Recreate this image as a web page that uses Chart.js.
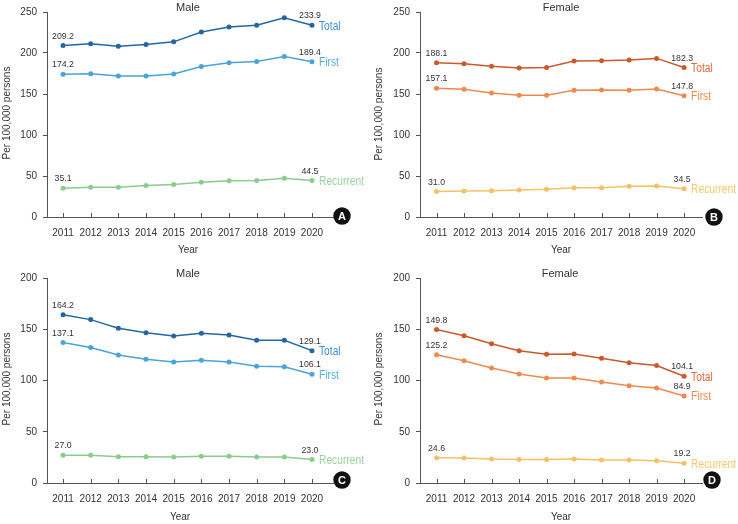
<!DOCTYPE html>
<html><head><meta charset="utf-8">
<script src="https://cdn.jsdelivr.net/npm/chart.js@4"></script>
<style>
html,body{margin:0;padding:0;background:#fff;}
#wrap{position:relative;width:738px;height:524px;overflow:hidden;}
canvas{position:absolute;}
</style>
</head><body>
<div id="wrap">
<canvas id="cA" width="369" height="262" style="left:0;top:0"></canvas>
<canvas id="cB" width="369" height="262" style="left:369px;top:0"></canvas>
<canvas id="cC" width="369" height="262" style="left:0;top:262px"></canvas>
<canvas id="cD" width="369" height="262" style="left:369px;top:262px"></canvas>
</div>
<script>
// ---- data ----
const years = [2011, 2012, 2013, 2014, 2015, 2016, 2017, 2018, 2019, 2020];
const yTicksTop = [0, 50, 100, 150, 200, 250];
const yTicksBottom = [0, 50, 100, 150, 200];
const seriesNames = ['Total', 'First', 'Recurrent'];
const panelTitles = ['Male', 'Female', 'Male', 'Female'];
const badgeLetters = ['A', 'B', 'C', 'D'];
const xTitle = 'Year';
const yTitle = 'Per 100,000 persons';

const maleTotalA = [209.2, 211.2, 208.3, 210.3, 213.6, 225.7, 231.8, 233.8, 243.1, 233.9];
const maleFirstA = [174.2, 174.8, 171.9, 171.9, 174.3, 183.6, 188.1, 189.7, 195.8, 189.4];
const maleRecA   = [35.1, 36.4, 36.4, 38.4, 39.6, 42.5, 44.1, 44.5, 47.3, 44.5];

const femTotalB = [188.1, 187.0, 183.8, 181.8, 182.2, 190.2, 190.6, 191.4, 193.4, 182.3];
const femFirstB = [157.1, 155.7, 151.3, 148.4, 148.4, 154.5, 154.9, 154.5, 156.1, 147.8];
const femRecB   = [31.0, 31.7, 32.1, 33.0, 33.8, 35.8, 35.8, 37.4, 37.8, 34.5];

const maleTotalC = [164.2, 159.4, 150.9, 146.7, 143.4, 146.0, 144.4, 139.2, 139.2, 129.1];
const maleFirstC = [137.1, 132.1, 124.9, 120.7, 118.1, 119.7, 118.1, 113.8, 113.5, 106.1];
const maleRecC   = [27.0, 27.0, 25.7, 25.7, 25.4, 26.0, 26.0, 25.4, 25.4, 23.0];

const femTotalD = [149.8, 143.7, 135.9, 129.1, 125.5, 125.8, 121.6, 117.3, 114.7, 104.1];
const femFirstD = [125.2, 119.3, 112.1, 106.3, 102.4, 102.4, 98.5, 94.9, 92.6, 84.9];
const femRecD   = [24.6, 24.3, 23.3, 23.0, 23.0, 23.3, 22.4, 22.4, 21.7, 19.2];

// ---- styles ----
const maleLine = ['#2466a3', '#4aa3da', '#8ccb8e'];
const maleLabel = ['#3f8fcf', '#4fb0e3', '#98d39a'];
const femLine = ['#c85a2b', '#ee8a4f', '#f5c066'];
const femLabel = ['#e2693a', '#f08a4c', '#f7c76c'];
const txt = '#333333';
const axisCol = '#555555';
const fontFam = '"Liberation Sans", Arial, sans-serif';

const panels = [
  {id:'cA', series:[maleTotalA, maleFirstA, maleRecA], line:maleLine, lab:maleLabel, yticks:yTicksTop,
   axisW:47, top:11, bottomH:45, xmin:2010.42, xmax:2020.76, tX:188, tY:8, yrX:188, yrY:250, ytX:7, ytY:113, bX:342, bY:216},
  {id:'cB', series:[femTotalB, femFirstB, femRecB], line:femLine, lab:femLabel, yticks:yTicksTop,
   axisW:51, top:11, bottomH:45, xmin:2010.40, xmax:2020.65, tX:192, tY:8, yrX:192, yrY:250, ytX:10, ytY:114, bX:345, bY:217},
  {id:'cC', series:[maleTotalC, maleFirstC, maleRecC], line:maleLine, lab:maleLabel, yticks:yTicksBottom,
   axisW:47, top:16, bottomH:41, xmin:2010.42, xmax:2020.76, tX:188, tY:12, yrX:180, yrY:255, ytX:7, ytY:117, bX:342, bY:218},
  {id:'cD', series:[femTotalD, femFirstD, femRecD], line:femLine, lab:femLabel, yticks:yTicksBottom,
   axisW:51, top:16, bottomH:41, xmin:2010.40, xmax:2020.65, tX:191, tY:12, yrX:192, yrY:255, ytX:10, ytY:117, bX:343, bY:218}
];

function condensedText(ctx, text, x, y, scale) {
  ctx.save();
  ctx.translate(x, y);
  ctx.scale(scale, 1);
  ctx.fillText(text, 0, 0);
  ctx.restore();
}

panels.forEach((p, pi) => {
  const decor = {
    id: 'decor' + pi,
    afterDraw(chart) {
      const ctx = chart.ctx;
      const xs = chart.scales.x, ys = chart.scales.y;
      const ca = chart.chartArea;
      ctx.save();
      // upward ticks on x axis
      ctx.strokeStyle = axisCol; ctx.lineWidth = 1;
      years.forEach(yr => {
        const px = Math.round(xs.getPixelForValue(yr)) + 0.5;
        ctx.beginPath(); ctx.moveTo(px, ca.bottom); ctx.lineTo(px, ca.bottom - 4); ctx.stroke();
      });
      // titles
      ctx.fillStyle = txt;
      ctx.textAlign = 'center'; ctx.textBaseline = 'middle';
      ctx.font = '11px ' + fontFam;
      ctx.fillText(panelTitles[pi], p.tX, p.tY);
      ctx.font = '10px ' + fontFam;
      ctx.fillText(xTitle, p.yrX, p.yrY);
      ctx.save();
      ctx.translate(p.ytX, p.ytY); ctx.rotate(-Math.PI / 2);
      ctx.fillText(yTitle, 0, 0);
      ctx.restore();
      // value labels and series names
      p.series.forEach((vals, si) => {
        const meta = chart.getDatasetMeta(si);
        const first = meta.data[0], last = meta.data[meta.data.length - 1];
        ctx.fillStyle = txt; ctx.textAlign = 'center'; ctx.textBaseline = 'middle';
        ctx.font = '9.5px ' + fontFam;
        condensedText(ctx, vals[0].toFixed(1), first.x, first.y - 9.5, 0.92);
        condensedText(ctx, vals[vals.length - 1].toFixed(1), last.x - 2, last.y - 9.5, 0.92);
        ctx.fillStyle = p.lab[si]; ctx.textAlign = 'left';
        ctx.font = '12.5px ' + fontFam;
        condensedText(ctx, seriesNames[si], last.x + 7, last.y + 1, 0.82);
      });
      // badge
      ctx.beginPath(); ctx.arc(p.bX, p.bY, 8.7, 0, Math.PI * 2);
      ctx.fillStyle = '#111'; ctx.fill();
      ctx.fillStyle = '#fff'; ctx.textAlign = 'center'; ctx.textBaseline = 'middle';
      ctx.font = 'bold 11px ' + fontFam;
      ctx.fillText(badgeLetters[pi], p.bX, p.bY + 0.5);
      ctx.restore();
    }
  };
  new Chart(document.getElementById(p.id), {
    type: 'line',
    data: {
      datasets: p.series.map((vals, si) => ({
        label: seriesNames[si],
        data: years.map((yr, i) => ({x: yr, y: vals[i]})),
        borderColor: p.line[si],
        backgroundColor: p.line[si],
        borderWidth: 1.5,
        pointRadius: 2.5,
        pointBorderWidth: 0,
        tension: 0,
        fill: false
      }))
    },
    options: {
      responsive: false,
      animation: false,
      devicePixelRatio: 1,
      layout: {padding: {top: p.top, right: 36, left: 0, bottom: 0}},
      plugins: {legend: {display: false}, tooltip: {enabled: false}, title: {display: false}},
      scales: {
        x: {
          type: 'linear', min: p.xmin, max: p.xmax,
          afterBuildTicks: s => { s.ticks = years.map(v => ({value: v})); },
          afterFit: s => { s.height = p.bottomH; },
          grid: {display: false, drawTicks: false},
          border: {display: true, color: axisCol, width: 1},
          ticks: {color: txt, font: {family: fontFam, size: 10}, padding: 10, maxRotation: 0, autoSkip: false,
                  callback: v => String(v)}
        },
        y: {
          min: 0, max: p.yticks[p.yticks.length - 1],
          afterBuildTicks: s => { s.ticks = p.yticks.map(v => ({value: v})); },
          afterFit: s => { s.width = p.axisW; },
          grid: {drawOnChartArea: false, drawTicks: true, tickLength: 4, color: axisCol},
          border: {display: true, color: axisCol, width: 1},
          ticks: {color: txt, font: {family: fontFam, size: 10}, padding: 6, callback: v => String(v)}
        }
      }
    },
    plugins: [decor]
  });
});
</script>
</body></html>
